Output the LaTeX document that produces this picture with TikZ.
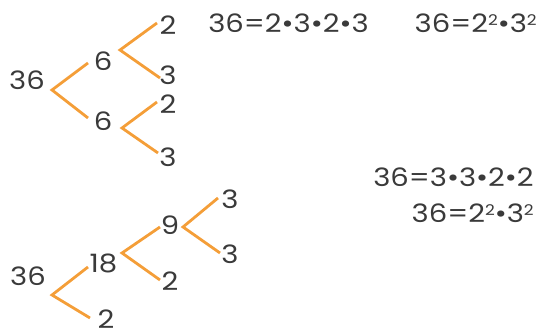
\documentclass[tikz,border=0pt]{standalone}
\usepackage{fontspec}
\setmainfont{Poppins}[FakeStretch=1.15]
\usepackage{tikz}
\usetikzlibrary{positioning}
\definecolor{branch}{RGB}{244,158,56}
\definecolor{digit}{RGB}{58,58,58}
\newcommand{\sqr}{\raisebox{5.5pt}{\fontsize{10.5}{12}\selectfont 2}}
\tikzset{num/.style={text=digit, inner sep=0pt, font=\fontsize{18}{21}\selectfont},
  eqn/.style={num, anchor=base west}}

\begin{document}
\begin{tikzpicture}[x=0.025cm,y=-0.025cm]
\useasboundingbox (0,0) rectangle (542,333);
%first tree: 36 = 6 * 6
\node[num] (a36) at (27,80.5) {36};
\node[num] (a6u) at (103,61.5) {6};
\node[num] (a6d) at (103,121.5) {6};
\node[num] (a2u) at (168,25.5) {2};
\node[num] (a3u) at (168,75.5) {3};
\node[num] (a2d) at (168,104.5) {2};
\node[num] (a3d) at (168,157.5) {3};
%vertex
\coordinate (ka) at (52,90); \coordinate (kb) at (120,50); \coordinate (kc) at (122,128);
\coordinate (ta1) at (88,63); \coordinate (ta2) at (88,118);
\coordinate (tb1) at (157,23); \coordinate (tb2) at (160,78);
\coordinate (tc1) at (157,102); \coordinate (tc2) at (158,153);
%edge
\draw[line width=0.07cm, branch] (ta1)--(ka)--(ta2);
\draw[line width=0.07cm, branch] (tb1)--(kb)--(tb2);
\draw[line width=0.07cm, branch] (tc1)--(kc)--(tc2);
%second tree: 36 = 18 * 2
\node[num] (b36) at (28,276) {36};
\node[num] (b18) at (103.5,263.5) {18};
\node[num] (b2a) at (106,319) {2};
\node[num] (b9) at (170,225) {9};
\node[num] (b2b) at (170,281) {2};
\node[num] (b3u) at (230,199.5) {3};
\node[num] (b3d) at (230,254.5) {3};
%vertex
\coordinate (kd) at (52,295); \coordinate (ke) at (122,253); \coordinate (kf) at (183,227);
\coordinate (td1) at (88,267); \coordinate (td2) at (90,318);
\coordinate (te1) at (160,227); \coordinate (te2) at (160,280);
\coordinate (tf1) at (218,198); \coordinate (tf2) at (220,253);
%edge
\draw[line width=0.07cm, branch] (td1)--(kd)--(td2);
\draw[line width=0.07cm, branch] (te1)--(ke)--(te2);
\draw[line width=0.07cm, branch] (tf1)--(kf)--(tf2);
%products
\node[eqn] (p1) at (208,33) {36=2•3•2•3};
\node[eqn, anchor=base east] (p2) at (537,33) {36=2\sqr•3\sqr};
\node[eqn] (p3) at (373,187) {36=3•3•2•2};
\node[eqn, anchor=base east] (p4) at (534,223) {36=2\sqr•3\sqr};
\end{tikzpicture}
\end{document}
